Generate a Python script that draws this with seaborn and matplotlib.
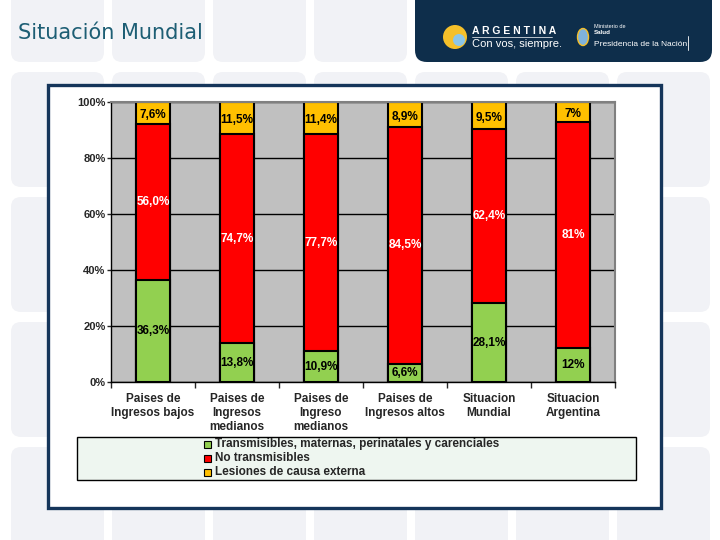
import matplotlib
matplotlib.use('Agg')
import matplotlib.pyplot as plt
from matplotlib.patches import FancyBboxPatch, Rectangle, Circle, Ellipse
import seaborn as sns
import numpy as np

# Data
categories = ['Paises de\nIngresos bajos', 'Paises de\nIngresos\nmedianos',
              'Paises de\nIngreso\nmedianos', 'Paises de\nIngresos altos',
              'Situacion\nMundial', 'Situacion\nArgentina']
transmisibles = [36.3, 13.8, 10.9, 6.6, 28.1, 12]
no_transmisibles = [56.0, 74.7, 77.7, 84.5, 62.4, 81]
lesiones = [7.6, 11.5, 11.4, 8.9, 9.5, 7]
lbl_trans = ['36,3%', '13,8%', '10,9%', '6,6%', '28,1%', '12%']
lbl_no_trans = ['56,0%', '74,7%', '77,7%', '84,5%', '62,4%', '81%']
lbl_lesiones = ['7,6%', '11,5%', '11,4%', '8,9%', '9,5%', '7%']
series_names = ['Transmisibles, maternas, perinatales y carenciales',
                'No transmisibles', 'Lesiones de causa externa']

GREEN = '#92D050'
RED = '#FF0000'
ORANGE = '#FFC000'

sns.set_style('white')
plt.rcParams['font.family'] = ['Liberation Sans', 'DejaVu Sans']

fig = plt.figure(figsize=(7.2, 5.4), dpi=100)

# slide background
bg = fig.add_axes([0, 0, 1, 1])
bg.set_xlim(0, 720)
bg.set_ylim(540, 0)
bg.axis('off')
for row in range(5):
    for col in range(7):
        x0 = 11 + 101 * col
        y0 = -53 + 125 * row
        bg.add_patch(FancyBboxPatch((x0, y0), 93, 115,
                                    boxstyle='round,pad=0,rounding_size=10',
                                    facecolor='#f1f2f6', edgecolor='none'))

# title
bg.text(18, 33, 'Situación Mundial', fontsize=15, color='#1d5e74',
        family='DejaVu Sans', va='center', ha='left')

# logo block
bg.add_patch(FancyBboxPatch((415, -20), 297, 82,
                            boxstyle='round,pad=0,rounding_size=12',
                            facecolor='#0e2e4b', edgecolor='none'))
bg.add_patch(Circle((455, 37), 12, facecolor='#f5c02a', edgecolor='none'))
bg.add_patch(Circle((459, 40), 6, facecolor='#8cc6e8', edgecolor='none'))
bg.text(472, 31, 'A R G E N T I N A', color='white', fontsize=7.5, fontweight='bold',
        va='center', ha='left')
bg.plot([472, 552], [37, 37], color='white', lw=0.5)
bg.text(472, 44, 'Con vos, siempre.', color='white', fontsize=8,
        va='center', ha='left')
bg.add_patch(Ellipse((583, 37), 11, 17, facecolor='#7fb2dc', edgecolor='#f5c02a', lw=1))
bg.text(594, 26, 'Ministerio de', color='white', fontsize=4, va='center', ha='left')
bg.text(594, 33, 'Salud', color='white', fontsize=4.5, fontweight='bold', va='center', ha='left')
bg.text(594, 44, 'Presidencia de la Nación', color='white', fontsize=6,
        va='center', ha='left')
bg.plot([688, 688], [36, 50], color='white', lw=0.6)

# chart frame
bg.add_patch(Rectangle((48, 85), 613, 423, facecolor='white',
                       edgecolor='#15355a', lw=2.4))

# legend box
bg.add_patch(Rectangle((77, 437), 559, 43, facecolor='#eef6f0',
                       edgecolor='black', lw=1))
for i, (name, c) in enumerate(zip(series_names, [GREEN, RED, ORANGE])):
    yy = 444 + 14 * i
    bg.add_patch(Rectangle((204, yy - 3.5), 7, 7, facecolor=c,
                           edgecolor='black', lw=0.8))
    bg.text(215, yy, name, fontsize=8.5, fontweight='bold', va='center', ha='left')

# chart axes
ax = fig.add_axes([111 / 720, 1 - 382 / 540, 504 / 720, 280 / 540])
ax.set_facecolor('#C0C0C0')
ax.set_zorder(2)

totals = [a + b + c for a, b, c in zip(transmisibles, no_transmisibles, lesiones)]
lower_two = [a + b for a, b in zip(transmisibles, no_transmisibles)]

sns.barplot(x=categories, y=totals, color=ORANGE, saturation=1, width=0.4,
            edgecolor='black', linewidth=1.5, ax=ax)
sns.barplot(x=categories, y=lower_two, color=RED, saturation=1, width=0.4,
            edgecolor='black', linewidth=1.5, ax=ax)
sns.barplot(x=categories, y=transmisibles, color=GREEN, saturation=1, width=0.4,
            edgecolor='black', linewidth=1.5, ax=ax)

for i in range(len(categories)):
    g, r, o = transmisibles[i], no_transmisibles[i], lesiones[i]
    ax.text(i, g / 2, lbl_trans[i], ha='center', va='center',
            fontsize=8.5, fontweight='bold', color='black')
    ax.text(i, g + r / 2, lbl_no_trans[i], ha='center', va='center',
            fontsize=8.5, fontweight='bold', color='white')
    ax.text(i, g + r + o / 2 - 0.8, lbl_lesiones[i], ha='center', va='center',
            fontsize=8.5, fontweight='bold', color='black')

ax.set_xlim(-0.5, 5.5)
ax.set_ylim(0, 100)
ax.set_yticks([0, 20, 40, 60, 80, 100])
ax.set_yticklabels(['0%', '20%', '40%', '60%', '80%', '100%'],
                   fontsize=8, fontweight='bold')
ax.yaxis.grid(True, color='black', lw=1)
ax.set_axisbelow(True)
ax.tick_params(axis='y', length=3, width=1, direction='out', pad=1, left=True)

ax.set_xticks(range(len(categories)))
ax.set_xticklabels(categories, fontsize=8.5, fontweight='bold', linespacing=1.2)
ax.tick_params(axis='x', length=0, pad=8)
ax.set_xticks(np.arange(-0.5, 6, 1), minor=True)
ax.tick_params(axis='x', which='minor', length=4, width=1, direction='out', bottom=True)
ax.set_xlabel('')
ax.set_ylabel('')

for side in ['top', 'right']:
    ax.spines[side].set_color('#808080')
    ax.spines[side].set_linewidth(1.5)
for side in ['left', 'bottom']:
    ax.spines[side].set_color('black')
    ax.spines[side].set_linewidth(1)

plt.savefig('out.png', dpi=100)
